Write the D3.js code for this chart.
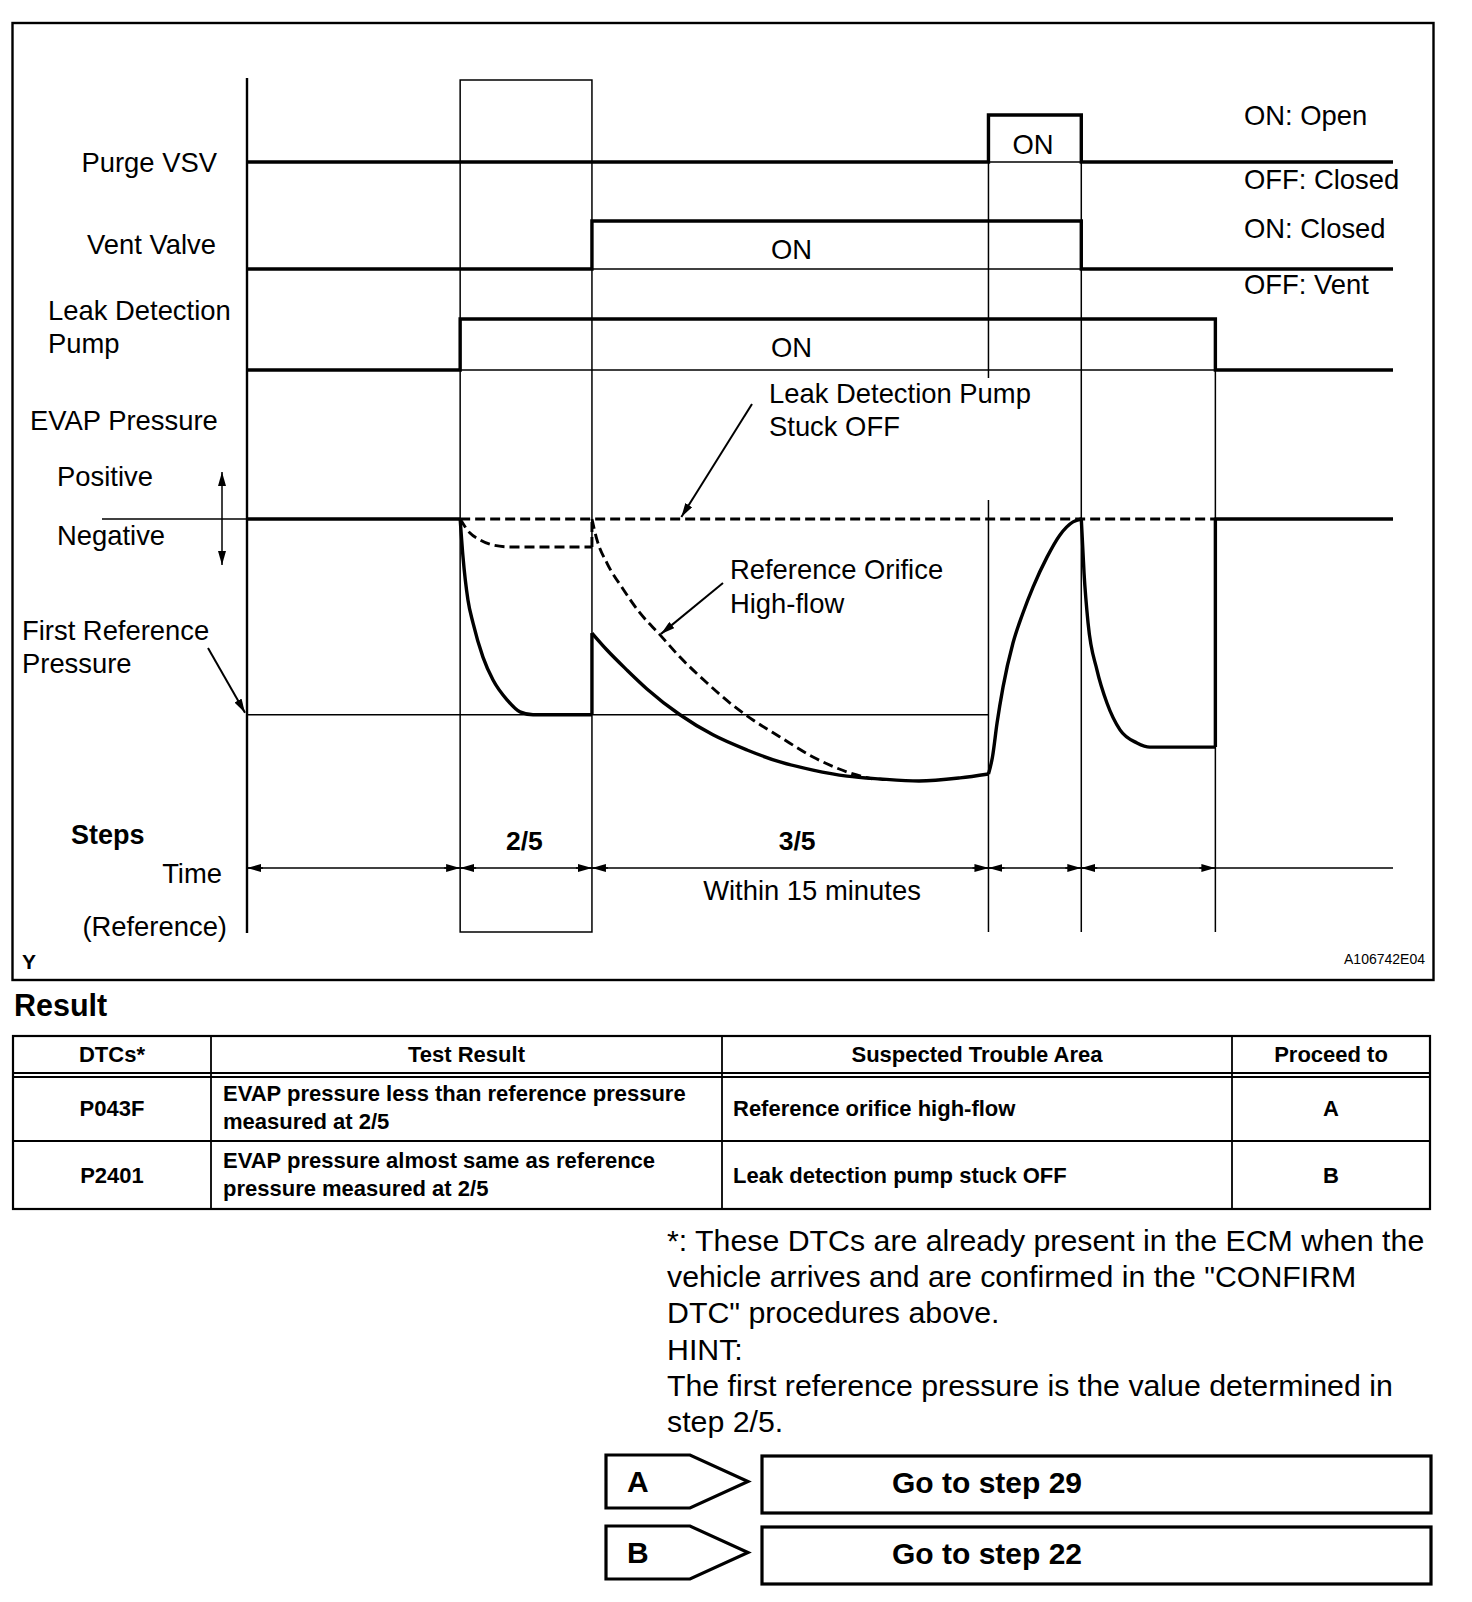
<!DOCTYPE html>
<html>
<head>
<meta charset="utf-8">
<script src="https://cdn.jsdelivr.net/npm/d3@7"></script>
<style>
  body { margin: 0; background: #fff; }
  svg text { font-family: "Liberation Sans", Arial, Helvetica, sans-serif; fill: #000; }
</style>
</head>
<body>
<svg id="chart" width="1472" height="1602"></svg>
<script>
// ---------- data ----------
// time axis: step boundaries (arbitrary time units, 0..100)
const stepBounds = [0, 18.6, 30.1, 64.7, 72.8, 84.5, 100];
const stepNames = ["", "2/5", "3/5", "", "", ""];
const stepNameAt = [0, 24.2, 48.0, 0, 0, 0];   // where each step name sits on the time axis
const stepTimeNote = ["", "", "Within 15 minutes", "", "", ""];

// on/off state of each output, one value per step
const channelNames = ["Purge VSV", "Vent Valve", "Leak Detection Pump"];
const purgeVsvState = [0, 0, 0, 1, 0, 0];
const ventValveState = [0, 0, 1, 1, 0, 0];
const leakPumpState = [0, 1, 1, 1, 1, 0];
const stateLegend = [["ON: Open", "OFF: Closed"], ["ON: Closed", "OFF: Vent"]];

// EVAP pressure (0 = atmospheric, negative below)
const firstRefPressure = -7.5;
const evapIdleT = [0, 18.6];
const evapIdleP = [0, 0];
const evapStep2T = [18.6, 18.85, 19.28, 19.72, 20.59, 21.47, 22.69, 23.82, 24.96, 30.1];
const evapStep2P = [0, -1.46, -3.1, -3.98, -5.29, -6.17, -6.93, -7.39, -7.5, -7.5];
const evapJumpT = [30.1, 30.1];
const evapJumpP = [-7.5, -4.37];
const evapStep3T = [30.1, 31.41, 33.16, 34.9, 37.78, 40.66, 43.63, 46.51, 49.39, 52.36, 55.24, 58.64, 62.22, 64.7];
const evapStep3P = [-4.37, -5.02, -5.79, -6.51, -7.5, -8.27, -8.85, -9.31, -9.62, -9.85, -9.96, -10.04, -9.92, -9.77];
const evapPurgeT = [64.7, 65.05, 65.45, 65.97, 66.84, 67.71, 68.59, 69.81, 70.94, 72.08, 72.8];
const evapPurgeP = [-9.77, -9.12, -7.82, -6.44, -4.75, -3.6, -2.61, -1.46, -0.61, -0.11, 0];
const evapRecheckT = [72.8, 73.04, 73.39, 74.17, 75.04, 76.18, 77.66, 78.79, 84.5];
const evapRecheckP = [0, -2.07, -3.98, -5.79, -7.05, -8.08, -8.58, -8.74, -8.74];
const evapReleaseT = [84.5, 84.5, 100];
const evapReleaseP = [-8.74, 0, 0];

// fault cases (dashed)
const stuckOffT = [18.6, 84.5];
const stuckOffP = [0, 0];
const highFlowStep2T = [18.6, 19.46, 20.33, 21.47, 22.95, 30.1];
const highFlowStep2P = [0, -0.54, -0.8, -1.0, -1.07, -1.07];
const highFlowJumpT = [30.1, 30.1];
const highFlowJumpP = [-1.07, 0];
const highFlowStep3T = [30.1, 30.54, 31.41, 32.81, 34.29, 36.04, 37.78, 40.14, 42.15, 44.15, 46.51, 49.39, 52.36, 54.54];
const highFlowStep3P = [0, -0.8, -1.69, -2.68, -3.6, -4.44, -5.29, -6.28, -7.05, -7.7, -8.35, -9.12, -9.69, -9.96];

// result table
const tableHeaders = ["DTCs*", "Test Result", "Suspected Trouble Area", "Proceed to"];
const dtcCodes = ["P043F", "P2401"];
const testResults = [["EVAP pressure less than reference pressure", "measured at 2/5"],
                     ["EVAP pressure almost same as reference", "pressure measured at 2/5"]];
const troubleAreas = ["Reference orifice high-flow", "Leak detection pump stuck OFF"];
const proceedTo = ["A", "B"];
const noteLines = ["*: These DTCs are already present in the ECM when the",
                   "vehicle arrives and are confirmed in the \"CONFIRM",
                   "DTC\" procedures above.",
                   "HINT:",
                   "The first reference pressure is the value determined in",
                   "step 2/5."];
const goToSteps = ["Go to step 29", "Go to step 22"];

// ---------- layout ----------
const svg = d3.select("#chart");
const THICK = 3.4, THIN = 1.5, FS = 27.4;

const x = d3.scaleLinear().domain([0, 100]).range([247, 1393]);
const yP = d3.scaleLinear().domain([0, -10]).range([519, 780]);
const lanes = [
  d3.scaleLinear().domain([0, 1]).range([162, 115]),
  d3.scaleLinear().domain([0, 1]).range([269, 221]),
  d3.scaleLinear().domain([0, 1]).range([370, 319])
];
const states = [purgeVsvState, ventValveState, leakPumpState];

const line = (stroke, w, dash) => sel => sel.attr("fill", "none").attr("stroke", stroke)
  .attr("stroke-width", w).attr("stroke-dasharray", dash || null);

const txt = (g, s, px, py, size, opts = {}) => g.append("text")
  .attr("x", px).attr("y", py).attr("font-size", size)
  .attr("font-weight", opts.bold ? "bold" : null)
  .attr("text-anchor", opts.anchor || "start").text(s);

// outer frame
svg.append("rect").attr("x", 12.5).attr("y", 23).attr("width", 1421).attr("height", 957)
  .call(line("#000", 2.4));

const g = svg.append("g");

// ---------- timing grid ----------
g.append("line").attr("x1", x(0)).attr("x2", x(0)).attr("y1", 78).attr("y2", 933).call(line("#000", 2.4));
g.append("rect").attr("x", x(stepBounds[1])).attr("y", 80)
  .attr("width", x(stepBounds[2]) - x(stepBounds[1])).attr("height", 852).call(line("#000", THIN));
// step separators
[[3, 115, 378], [3, 500, 932], [4, 115, 932], [5, 319, 932]].forEach(([i, y1, y2]) =>
  g.append("line").attr("x1", x(stepBounds[i])).attr("x2", x(stepBounds[i]))
    .attr("y1", y1).attr("y2", y2).call(line("#000", THIN)));

// ---------- on/off channels ----------
const stepLine = d3.line().x(d => x(d[0])).y(d => d[1]).curve(d3.curveStepAfter);
states.forEach((st, c) => {
  const ys = lanes[c];
  g.append("line").attr("x1", x(0)).attr("x2", x(100)).attr("y1", ys(0)).attr("y2", ys(0))
    .call(line("#000", THIN));
  const pts = st.map((s, i) => [stepBounds[i], ys(s)]);
  pts.push([100, ys(st[st.length - 1])]);
  g.append("path").attr("d", stepLine(pts)).call(line("#000", THICK));
});

// channel labels
txt(g, channelNames[0], 217, 172, FS, { anchor: "end" });
txt(g, channelNames[1], 216, 254, FS, { anchor: "end" });
txt(g, "Leak Detection", 48, 320, FS);
txt(g, "Pump", 48, 353, FS);
txt(g, "ON", 1033, 154, FS, { anchor: "middle" });
txt(g, "ON", 771, 259, FS);
txt(g, "ON", 771, 357, FS);
const legendY = [[125, 188.5], [237.5, 293.5]];
stateLegend.forEach((pair, c) => pair.forEach((s, k) => txt(g, s, 1244, legendY[c][k], FS)));

// ---------- EVAP pressure ----------
txt(g, "EVAP Pressure", 30, 430, FS);
txt(g, "Positive", 57, 486, FS);
txt(g, "Negative", 57, 545, FS);
txt(g, "First Reference", 22, 640, FS);
txt(g, "Pressure", 22, 673, FS);

// arrowhead marker
const defs = svg.append("defs");
defs.append("marker").attr("id", "ah").attr("viewBox", "0 0 14 8").attr("refX", 14).attr("refY", 4)
  .attr("markerWidth", 14).attr("markerHeight", 8).attr("markerUnits", "userSpaceOnUse")
  .attr("orient", "auto-start-reverse")
  .append("path").attr("d", "M0,0 L14,4 L0,8 Z").attr("fill", "#000");

// positive / negative double arrow and zero reference
g.append("line").attr("x1", 222).attr("x2", 222).attr("y1", 472).attr("y2", 565)
  .call(line("#000", THIN)).attr("marker-start", "url(#ah)").attr("marker-end", "url(#ah)");
g.append("line").attr("x1", 102).attr("x2", x(0)).attr("y1", yP(0)).attr("y2", yP(0)).call(line("#000", THIN));
// first reference pressure level
g.append("line").attr("x1", x(0)).attr("x2", x(stepBounds[3])).attr("y1", yP(firstRefPressure))
  .attr("y2", yP(firstRefPressure)).call(line("#000", THIN));

const curve = d3.line().x(d => x(d[0])).y(d => yP(d[1])).curve(d3.curveMonotoneX);
const straight = d3.line().x(d => x(d[0])).y(d => yP(d[1]));
const zip = (t, p) => t.map((v, i) => [v, p[i]]);

// dashed fault cases
[[stuckOffT, stuckOffP, straight], [highFlowStep2T, highFlowStep2P, curve],
 [highFlowJumpT, highFlowJumpP, straight], [highFlowStep3T, highFlowStep3P, curve]]
  .forEach(([t, p, gen]) => g.append("path").attr("d", gen(zip(t, p))).call(line("#000", 2.9, "10,5")));

// normal EVAP pressure trace
[[evapIdleT, evapIdleP, straight], [evapStep2T, evapStep2P, curve], [evapJumpT, evapJumpP, straight],
 [evapStep3T, evapStep3P, curve], [evapPurgeT, evapPurgeP, curve], [evapRecheckT, evapRecheckP, curve],
 [evapReleaseT, evapReleaseP, straight]]
  .forEach(([t, p, gen]) => g.append("path").attr("d", gen(zip(t, p)))
    .call(line("#000", THICK)).attr("stroke-linejoin", "round"));

// annotations
const arrow = (x1, y1, x2, y2) => g.append("line").attr("x1", x1).attr("y1", y1).attr("x2", x2).attr("y2", y2)
  .call(line("#000", 2)).attr("marker-end", "url(#ah)");
arrow(752, 404, x(37.9), yP(0) - 2);
txt(g, "Leak Detection Pump", 769, 403, FS);
txt(g, "Stuck OFF", 769, 436, FS);
arrow(723, 583, x(highFlowStep3T[5]) + 1, yP(highFlowStep3P[5]) - 1);
txt(g, "Reference Orifice", 730, 579, FS);
txt(g, "High-flow", 730, 613, FS);
arrow(208, 648, x(0) - 2, yP(firstRefPressure) - 2);

// ---------- steps / time ----------
txt(g, "Steps", 71, 844, 27, { bold: true });
txt(g, "Time", 222, 883, FS, { anchor: "end" });
txt(g, "(Reference)", 227, 936, FS, { anchor: "end" });
const timeY = 868;
g.append("line").attr("x1", x(0)).attr("x2", x(100)).attr("y1", timeY).attr("y2", timeY).call(line("#000", THIN));
stepBounds.slice(0, -2).forEach((b, i) => {
  g.append("line").attr("x1", x(b) + 16).attr("x2", x(b)).attr("y1", timeY).attr("y2", timeY)
    .call(line("#000", THIN)).attr("marker-end", "url(#ah)");
  g.append("line").attr("x1", x(stepBounds[i + 1]) - 16).attr("x2", x(stepBounds[i + 1]))
    .attr("y1", timeY).attr("y2", timeY).call(line("#000", THIN)).attr("marker-end", "url(#ah)");
});
stepNames.forEach((s, i) => {
  if (s) txt(g, s, x(stepNameAt[i]), 850, 26.5, { bold: true, anchor: "middle" });
});
txt(g, stepTimeNote[2], 812, 900, FS, { anchor: "middle" });

txt(g, "Y", 22, 969, 21, { bold: true });
txt(g, "A106742E04", 1425, 964, 14, { anchor: "end" });

// ---------- result table ----------
txt(svg, "Result", 14, 1016, 30.5, { bold: true });
const colX = [13, 211, 722, 1232, 1430];
const rowY = [1036, 1075, 1141, 1209];
const tg = svg.append("g");
tg.append("rect").attr("x", colX[0]).attr("y", rowY[0]).attr("width", colX[4] - colX[0])
  .attr("height", rowY[3] - rowY[0]).call(line("#000", 2.2));
colX.slice(1, -1).forEach(cx => tg.append("line").attr("x1", cx).attr("x2", cx)
  .attr("y1", rowY[0]).attr("y2", rowY[3]).call(line("#000", 1.8)));
[rowY[1] - 2, rowY[1] + 2].forEach(yy => tg.append("line").attr("x1", colX[0]).attr("x2", colX[4])
  .attr("y1", yy).attr("y2", yy).call(line("#000", 1.8)));
tg.append("line").attr("x1", colX[0]).attr("x2", colX[4]).attr("y1", rowY[2]).attr("y2", rowY[2])
  .call(line("#000", 1.8));

const colMid = i => (colX[i] + colX[i + 1]) / 2;
tableHeaders.forEach((h, i) => txt(tg, h, colMid(i), 1062, 22, { bold: true, anchor: "middle" }));
dtcCodes.forEach((code, r) => {
  const mid = (rowY[r + 1] + rowY[r + 2]) / 2;
  txt(tg, code, colMid(0), mid + 8, 22, { bold: true, anchor: "middle" });
  testResults[r].forEach((s, k) => txt(tg, s, 223, mid - 7 + k * 27.5, 22, { bold: true }));
  txt(tg, troubleAreas[r], 733, mid + 8, 22, { bold: true });
  txt(tg, proceedTo[r], colMid(3), mid + 8, 22, { bold: true, anchor: "middle" });
});

// ---------- notes ----------
noteLines.forEach((s, i) => txt(svg, s, 667, 1251 + i * 36.2, 30.3));

// ---------- go-to buttons ----------
const btnTop = [1455, 1526];
goToSteps.forEach((s, i) => {
  const y0 = btnTop[i], h = 53;
  svg.append("path").attr("d",
    `M606,${y0} L690,${y0} L748,${y0 + h / 2} L690,${y0 + h} L606,${y0 + h} Z`)
    .call(line("#000", 3.2));
  txt(svg, proceedTo[i], 627, y0 + h / 2 + 10, 30, { bold: true });
  svg.append("rect").attr("x", 762).attr("y", y0 + 1).attr("width", 669).attr("height", h + 4)
    .call(line("#000", 3.2));
  txt(svg, s, 892, y0 + h / 2 + 11, 30, { bold: true });
});
</script>
</body>
</html>
